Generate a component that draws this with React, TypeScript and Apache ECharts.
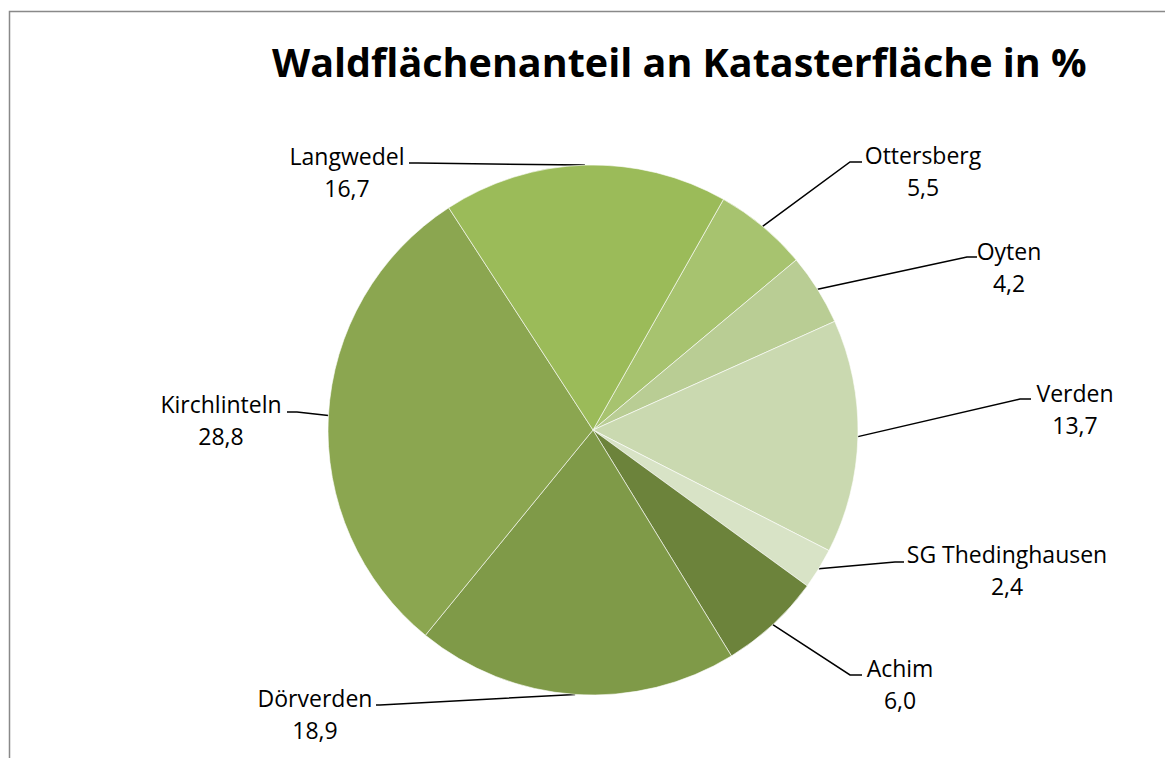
import React, { useEffect, useRef } from 'react';
import * as echarts from 'echarts';

const titleText = 'Waldflächenanteil an Katasterfläche in %';
const categories = ['Ottersberg', 'Oyten', 'Verden', 'SG Thedinghausen', 'Achim', 'Dörverden', 'Kirchlinteln', 'Langwedel'];
const values = [5.5, 4.2, 13.7, 2.4, 6.0, 18.9, 28.8, 16.7];
const sliceColors = ['#a7c36f', '#b9cd94', '#cad9b0', '#d8e3c6', '#6c833b', '#7f9a48', '#8ba650', '#9bbb59'];

// label block centres (layout) and leader-line elbow points (layout)
const labelAnchors: number[][] = [
  [923, 171], [1009, 267], [1075, 409], [1007, 570], [900, 684], [315, 714], [221, 420], [347, 172],
];
const labelElbows: number[][][] = [
  [[850, 162], [862, 162]],
  [[967, 257], [977, 257]],
  [[1020, 399], [1031, 399]],
  [[895, 562], [904, 562]],
  [[850, 675], [862, 675]],
  [[380, 705], [376, 705]],
  [[297, 412], [287, 412]],
  [[418, 163], [409, 163]],
];

const fmt = (v: number) => v.toFixed(1).replace('.', ',');

export default function App() {
  const ref = useRef<HTMLDivElement>(null);
  useEffect(() => {
    document.body.style.margin = '0';
    if (!ref.current) return;
    const chart = echarts.init(ref.current, null, { renderer: 'svg' });
    chart.setOption({
      animation: false,
      backgroundColor: '#ffffff',
      title: {
        text: titleText,
        left: 267,
        top: 37,
        textStyle: { fontFamily: 'Open Sans', fontWeight: 'bold', fontSize: 39.5, color: '#000' },
      },
      graphic: [
        {
          type: 'rect',
          shape: { x: 9.5, y: 11.5, width: 1300, height: 900 },
          style: { fill: 'none', stroke: '#898989', lineWidth: 1.5 },
          silent: true,
        },
      ],
      series: [
        {
          type: 'pie',
          center: [593, 430],
          radius: 265,
          startAngle: 60.5,
          clockwise: true,
          avoidLabelOverlap: false,
          data: categories.map((c, i) => ({ name: c, value: values[i], itemStyle: { color: sliceColors[i] } })),
          itemStyle: { borderColor: 'rgba(255,255,255,0.6)', borderWidth: 1 },
          label: {
            show: true,
            position: 'outside',
            formatter: (p: any) => `${p.name}\n${fmt(p.value)}`,
            fontFamily: 'Open Sans',
            fontSize: 23,
            lineHeight: 32,
            color: '#000',
            align: 'center',
          },
          labelLine: {
            show: true,
            length: 20,
            length2: 10,
            smooth: false,
            lineStyle: { color: '#000', width: 1.5 },
          },
          labelLayout: (params: any) => {
            const i = params.dataIndex;
            const pts = params.labelLinePoints;
            const res: any = {
              x: labelAnchors[i][0],
              y: labelAnchors[i][1],
              align: 'center',
              verticalAlign: 'middle',
            };
            if (pts && pts.length) {
              res.labelLinePoints = [pts[0], labelElbows[i][0], labelElbows[i][1]];
            }
            return res;
          },
          emphasis: { disabled: true },
        },
      ],
    });
    return () => chart.dispose();
  }, []);
  return <div ref={ref} style={{ width: 1165, height: 758 }} />;
}
